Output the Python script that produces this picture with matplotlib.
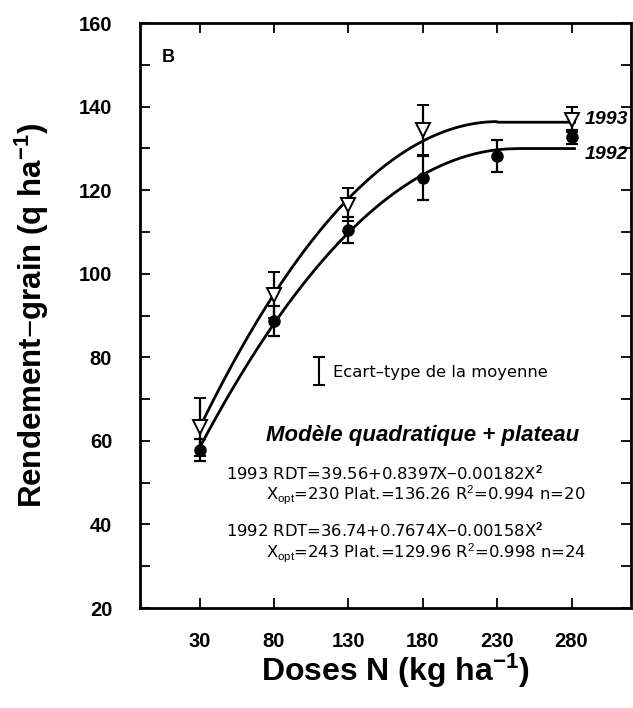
import numpy as np
import matplotlib
matplotlib.use("Agg")
import matplotlib.pyplot as plt

plt.rcParams['font.family'] = ['Liberation Sans', 'DejaVu Sans']
plt.rcParams['mathtext.fontset'] = 'custom'
plt.rcParams['mathtext.rm'] = 'Liberation Sans'
plt.rcParams['mathtext.bf'] = 'Liberation Sans:bold'
plt.rcParams['mathtext.it'] = 'Liberation Sans:italic'

# Data
doses_1993 = [30, 80, 130, 180, 280]
yield_1993 = [63.3, 94.9, 116.5, 134.4, 136.8]
sd_1993 = [7.0, 5.5, 4.0, 6.0, 3.0]

doses_1992 = [30, 80, 130, 180, 230, 280]
yield_1992 = [57.8, 88.7, 110.5, 122.9, 128.2, 132.7]
sd_1992 = [2.6, 3.6, 3.1, 5.2, 3.9, 1.6]

# Model coefficients (from the chart's annotation): a, b, c, x_opt, plateau
model_1993 = [39.56, 0.8397, -0.00182, 230, 136.26]
model_1992 = [36.74, 0.7674, -0.00158, 243, 129.96]

xticks = [30, 80, 130, 180, 230, 280]
yticks = [20, 40, 60, 80, 100, 120, 140, 160]

fig = plt.figure(figsize=(6.33, 7.08), dpi=100)
ax = fig.add_axes([0.2212, 0.1412, 0.7757, 0.8263])

def curve(m, x):
    a, b, c, xo, plat = m
    y = a + b * x + c * x ** 2
    return np.where(x < xo, y, plat)

xs = np.linspace(30, 282, 400)
ax.plot(xs, curve(model_1993, xs), color='black', lw=2.0, zorder=2)
ax.plot(xs, curve(model_1992, xs), color='black', lw=2.0, zorder=2)

ax.errorbar(doses_1993, yield_1993, yerr=sd_1993, fmt='v', ms=9.5, mfc='white',
            mec='black', mew=1.4, ecolor='black', elinewidth=1.6, capsize=4,
            capthick=1.6, zorder=3)
ax.errorbar(doses_1992, yield_1992, yerr=sd_1992, fmt='o', ms=8, mfc='black',
            mec='black', ecolor='black', elinewidth=1.6, capsize=4,
            capthick=1.6, zorder=4)

ax.set_xlim(-10, 320)
ax.set_ylim(20, 160)
ax.set_xticks(xticks)
ax.set_yticks(yticks)
ax.set_yticks(np.arange(30, 160, 20), minor=True)
ax.tick_params(axis='both', which='both', direction='in', top=True, right=True,
               length=7.5, width=1.3)
ax.tick_params(axis='x', labelsize=14.5, pad=17)
ax.tick_params(axis='y', labelsize=14.5, pad=20)
for lab in ax.get_xticklabels() + ax.get_yticklabels():
    lab.set_fontweight('bold')
for s in ax.spines.values():
    s.set_linewidth(2.0)

ax.set_xlabel(r'Doses N (kg ha$^{\mathbf{-1}}$)', fontsize=23, fontweight='bold', labelpad=5)
ax.xaxis.set_label_coords(0.52, -0.075)
ax.set_ylabel(r'Rendement$-$grain (q ha$^{\mathbf{-1}}$)', fontsize=22.5, fontweight='bold', labelpad=20)

ax.text(4.5, 151.7, 'B', fontsize=13, fontweight='bold', va='center', ha='left')
ax.text(288.8, 137, '1993', fontsize=14, fontweight='bold', style='italic', va='center', ha='left')
ax.text(288.8, 128.6, '1992', fontsize=14, fontweight='bold', style='italic', va='center', ha='left')

small = dict(family=['DejaVu Sans'], fontsize=11.8, va='center', ha='left')

# error legend symbol
ax.errorbar([110.5], [76.7], yerr=[3.3], fmt='none', ecolor='black',
            elinewidth=1.5, capsize=4.2, capthick=1.5)
ax.text(119.9, 76.3, 'Ecart\u2013type de la moyenne', **small)

ax.text(75, 61.4, 'Modèle quadratique + plateau', fontsize=16, fontweight='bold',
        style='italic', va='center', ha='left')
ax.text(48.1, 52.2, r'1993 RDT=39.56+0.8397X$-$0.00182X$^{\mathbf{2}}$', **small)
ax.text(75, 46.9, r'X$_{\mathrm{opt}}$=230 Plat.=136.26 R$^2$=0.994 n=20', **small)
ax.text(48.1, 38.4, r'1992 RDT=36.74+0.7674X$-$0.00158X$^{\mathbf{2}}$', **small)
ax.text(75, 33.1, r'X$_{\mathrm{opt}}$=243 Plat.=129.96 R$^2$=0.998 n=24', **small)

fig.savefig('out.png', dpi=100)
